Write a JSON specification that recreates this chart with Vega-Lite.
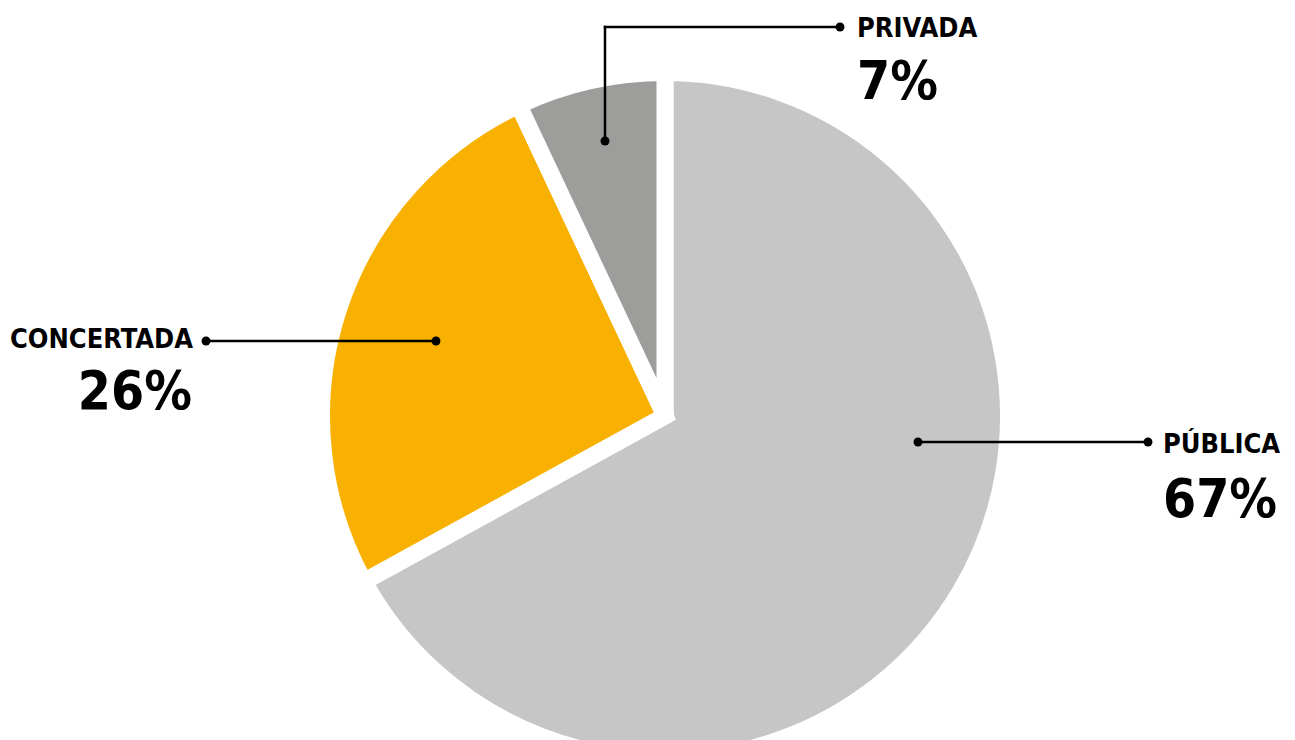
{
  "$schema": "https://vega.github.io/schema/vega-lite/v6.json",
  "width": 1260,
  "height": 648,
  "autosize": "none",
  "padding": {"left": 35, "top": 92, "right": 0, "bottom": 0},
  "background": "white",
  "config": {"view": {"stroke": null}},
  "datasets": {
    "sectores": [
      {"sector": "PÚBLICA", "porcentaje": 67, "orden": 1},
      {"sector": "CONCERTADA", "porcentaje": 26, "orden": 2},
      {"sector": "PRIVADA", "porcentaje": 7, "orden": 3}
    ],
    "guias": [
      {"sector": "PRIVADA", "x": -0.1791, "y": 0.8209, "x2": -0.1791, "y2": 1.1612},
      {"sector": "PRIVADA", "x": -0.1791, "y": 1.1612, "x2": 0.5224, "y2": 1.1612},
      {"sector": "CONCERTADA", "x": -0.6836, "y": 0.2239, "x2": -1.3701, "y2": 0.2239},
      {"sector": "PÚBLICA", "x": 0.7552, "y": -0.0776, "x2": 1.4418, "y2": -0.0776}
    ],
    "puntos": [
      {"sector": "PRIVADA", "x": -0.1791, "y": 0.8209},
      {"sector": "PRIVADA", "x": 0.5224, "y": 1.1612},
      {"sector": "CONCERTADA", "x": -0.6836, "y": 0.2239},
      {"sector": "CONCERTADA", "x": -1.3701, "y": 0.2239},
      {"sector": "PÚBLICA", "x": 0.7552, "y": -0.0776},
      {"sector": "PÚBLICA", "x": 1.4418, "y": -0.0776}
    ],
    "etiquetas": [
      {"sector": "PRIVADA", "texto": "PRIVADA", "tipo": "nombre", "lado": "izquierda", "x": 0.5731, "y": 1.1322},
      {"sector": "PRIVADA", "texto": "7%", "tipo": "valor", "lado": "izquierda", "x": 0.5731, "y": 0.9463},
      {"sector": "CONCERTADA", "texto": "CONCERTADA", "tipo": "nombre", "lado": "derecha", "x": -1.409, "y": 0.2039},
      {"sector": "CONCERTADA", "texto": "26%", "tipo": "valor", "lado": "derecha", "x": -1.4119, "y": 0.0209},
      {"sector": "PÚBLICA", "texto": "PÚBLICA", "tipo": "nombre", "lado": "izquierda", "x": 1.4866, "y": -0.1104},
      {"sector": "PÚBLICA", "texto": "67%", "tipo": "valor", "lado": "izquierda", "x": 1.4866, "y": -0.3015}
    ]
  },
  "resolve": {"scale": {"x": "shared", "y": "shared"}},
  "layer": [
    {
      "data": {"name": "sectores"},
      "mark": {"type": "arc", "outerRadius": 343.5, "stroke": "white", "strokeWidth": 17, "strokeJoin": "miter"},
      "encoding": {
        "theta": {"field": "porcentaje", "type": "quantitative", "stack": true},
        "order": {"field": "orden", "type": "quantitative"},
        "color": {
          "field": "sector",
          "type": "nominal",
          "scale": {"domain": ["PÚBLICA", "CONCERTADA", "PRIVADA"], "range": ["#c6c6c6", "#f8b100", "#9d9d9b"]},
          "legend": null
        }
      }
    },
    {
      "data": {"name": "guias"},
      "mark": {"type": "rule", "color": "black", "strokeWidth": 2.5, "strokeCap": "square"},
      "encoding": {
        "x": {"field": "x", "type": "quantitative", "scale": {"domain": [-1.8806, 1.8806], "nice": false, "zero": false}, "axis": null},
        "y": {"field": "y", "type": "quantitative", "scale": {"domain": [-0.9672, 0.9672], "nice": false, "zero": false}, "axis": null},
        "x2": {"field": "x2"},
        "y2": {"field": "y2"}
      }
    },
    {
      "data": {"name": "puntos"},
      "mark": {"type": "point", "shape": "circle", "filled": true, "color": "black", "opacity": 1, "size": 80, "strokeWidth": 0},
      "encoding": {
        "x": {"field": "x", "type": "quantitative"},
        "y": {"field": "y", "type": "quantitative"}
      }
    },
    {
      "data": {"name": "etiquetas"},
      "transform": [{"filter": "datum.tipo === 'nombre' && datum.lado === 'izquierda'"}],
      "mark": {"type": "text", "align": "left", "baseline": "alphabetic", "font": "DejaVu Sans Condensed", "fontWeight": "bold", "fontSize": 27, "color": "black"},
      "encoding": {
        "x": {"field": "x", "type": "quantitative"},
        "y": {"field": "y", "type": "quantitative"},
        "text": {"field": "texto"}
      }
    },
    {
      "data": {"name": "etiquetas"},
      "transform": [{"filter": "datum.tipo === 'nombre' && datum.lado === 'derecha'"}],
      "mark": {"type": "text", "align": "right", "baseline": "alphabetic", "font": "DejaVu Sans Condensed", "fontWeight": "bold", "fontSize": 27, "color": "black"},
      "encoding": {
        "x": {"field": "x", "type": "quantitative"},
        "y": {"field": "y", "type": "quantitative"},
        "text": {"field": "texto"}
      }
    },
    {
      "data": {"name": "etiquetas"},
      "transform": [{"filter": "datum.tipo === 'valor' && datum.lado === 'izquierda'"}],
      "mark": {"type": "text", "align": "left", "baseline": "alphabetic", "font": "DejaVu Sans Condensed", "fontWeight": "bold", "fontSize": 53, "color": "black"},
      "encoding": {
        "x": {"field": "x", "type": "quantitative"},
        "y": {"field": "y", "type": "quantitative"},
        "text": {"field": "texto"}
      }
    },
    {
      "data": {"name": "etiquetas"},
      "transform": [{"filter": "datum.tipo === 'valor' && datum.lado === 'derecha'"}],
      "mark": {"type": "text", "align": "right", "baseline": "alphabetic", "font": "DejaVu Sans Condensed", "fontWeight": "bold", "fontSize": 53, "color": "black"},
      "encoding": {
        "x": {"field": "x", "type": "quantitative"},
        "y": {"field": "y", "type": "quantitative"},
        "text": {"field": "texto"}
      }
    }
  ]
}
